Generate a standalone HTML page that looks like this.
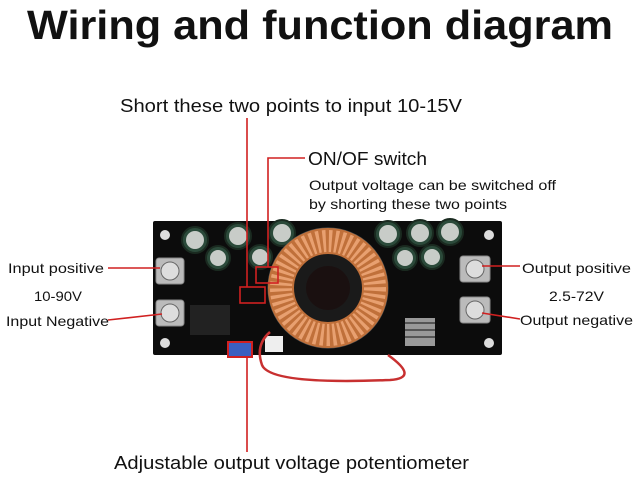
<!DOCTYPE html>
<html><head><meta charset="utf-8"><style>
body{margin:0;width:640px;height:484px;background:#fff;overflow:hidden}
svg{display:block}
text{font-family:"Liberation Sans","DejaVu Sans",sans-serif;fill:#111}
</style></head><body>
<svg width="640" height="484" viewBox="0 0 640 484">
<text x="320" y="39" text-anchor="middle" font-size="41" font-weight="bold" textLength="586" lengthAdjust="spacingAndGlyphs">Wiring and function diagram</text>
<text x="120" y="112" font-size="18" textLength="342" lengthAdjust="spacingAndGlyphs">Short these two points to input 10-15V</text>
<text x="308" y="165" font-size="18" textLength="119" lengthAdjust="spacingAndGlyphs">ON/OF switch</text>
<text x="309" y="190" font-size="14" textLength="247" lengthAdjust="spacingAndGlyphs">Output voltage can be switched off</text>
<text x="309" y="209" font-size="14" textLength="198" lengthAdjust="spacingAndGlyphs">by shorting these two points</text>
<text x="8" y="273" font-size="14" textLength="96" lengthAdjust="spacingAndGlyphs">Input positive</text>
<text x="34" y="301" font-size="14" textLength="48" lengthAdjust="spacingAndGlyphs">10-90V</text>
<text x="6" y="326" font-size="14" textLength="103" lengthAdjust="spacingAndGlyphs">Input Negative</text>
<text x="522" y="273" font-size="14" textLength="109" lengthAdjust="spacingAndGlyphs">Output positive</text>
<text x="549" y="301" font-size="14" textLength="55" lengthAdjust="spacingAndGlyphs">2.5-72V</text>
<text x="520" y="325" font-size="14" textLength="113" lengthAdjust="spacingAndGlyphs">Output negative</text>
<text x="114" y="469" font-size="18" textLength="355" lengthAdjust="spacingAndGlyphs">Adjustable output voltage potentiometer</text>
<!-- board -->
<rect x="153" y="221" width="349" height="134" fill="#0c0c0c" rx="2"/>
<g fill="#ddd"><circle cx="165" cy="235" r="5"/><circle cx="489" cy="235" r="5"/><circle cx="165" cy="343" r="5"/><circle cx="489" cy="343" r="5"/></g>
<g fill="#2b4a3a" stroke="#1a2a20" stroke-width="2">
<circle cx="195" cy="240" r="13"/><circle cx="238" cy="236" r="13"/><circle cx="282" cy="233" r="13"/><circle cx="218" cy="258" r="12"/><circle cx="260" cy="257" r="12"/>
<circle cx="388" cy="234" r="13"/><circle cx="420" cy="233" r="13"/><circle cx="450" cy="232" r="13"/><circle cx="405" cy="258" r="12"/><circle cx="432" cy="257" r="12"/>
</g>
<g fill="#c8ccc8"><circle cx="195" cy="240" r="9"/><circle cx="238" cy="236" r="9"/><circle cx="282" cy="233" r="9"/><circle cx="218" cy="258" r="8"/><circle cx="260" cy="257" r="8"/>
<circle cx="388" cy="234" r="9"/><circle cx="420" cy="233" r="9"/><circle cx="450" cy="232" r="9"/><circle cx="405" cy="258" r="8"/><circle cx="432" cy="257" r="8"/></g>
<circle cx="328" cy="288" r="60" fill="#1a1a1a" stroke="#555" stroke-width="1"/>
<circle cx="328" cy="288" r="47" fill="none" stroke="#c0703a" stroke-width="26"/>
<circle cx="328" cy="288" r="47" fill="none" stroke="#e8a070" stroke-width="22" stroke-dasharray="3 3"/>
<circle cx="328" cy="288" r="22" fill="#1a1010"/>
<g fill="#bbb" stroke="#888"><rect x="156" y="258" width="28" height="26" rx="3"/><rect x="156" y="300" width="28" height="26" rx="3"/><rect x="460" y="256" width="30" height="26" rx="3"/><rect x="460" y="297" width="30" height="26" rx="3"/></g>
<g fill="#ddd" stroke="#666"><circle cx="170" cy="271" r="9"/><circle cx="170" cy="313" r="9"/><circle cx="475" cy="269" r="9"/><circle cx="475" cy="310" r="9"/></g>
<rect x="190" y="305" width="40" height="30" fill="#222"/>
<rect x="405" y="318" width="30" height="28" fill="#999"/>
<g stroke="#555" stroke-width="2"><line x1="405" y1="323" x2="435" y2="323"/><line x1="405" y1="330" x2="435" y2="330"/><line x1="405" y1="337" x2="435" y2="337"/></g>
<rect x="265" y="336" width="18" height="16" fill="#eee"/>
<rect x="228" y="342" width="24" height="15" fill="#3a5fc0" stroke="#d02020" stroke-width="2"/>
<path d="M270 332 Q255 345 262 365 Q270 385 390 380 Q420 378 388 355" fill="none" stroke="#c83030" stroke-width="2.5"/>
<g stroke="#d02020" stroke-width="1.6" fill="none">
<line x1="247" y1="118" x2="247" y2="287"/>
<rect x="240" y="287" width="25" height="16"/>
<rect x="256" y="267" width="22" height="16"/>
<polyline points="305,158 268,158 268,267"/>
<line x1="247" y1="357" x2="247" y2="452"/>
<line x1="108" y1="268" x2="160" y2="268"/>
<line x1="108" y1="320" x2="162" y2="314"/>
<line x1="482" y1="266" x2="520" y2="266"/>
<line x1="482" y1="313" x2="520" y2="319"/>
</g>
</svg>
</body></html>
